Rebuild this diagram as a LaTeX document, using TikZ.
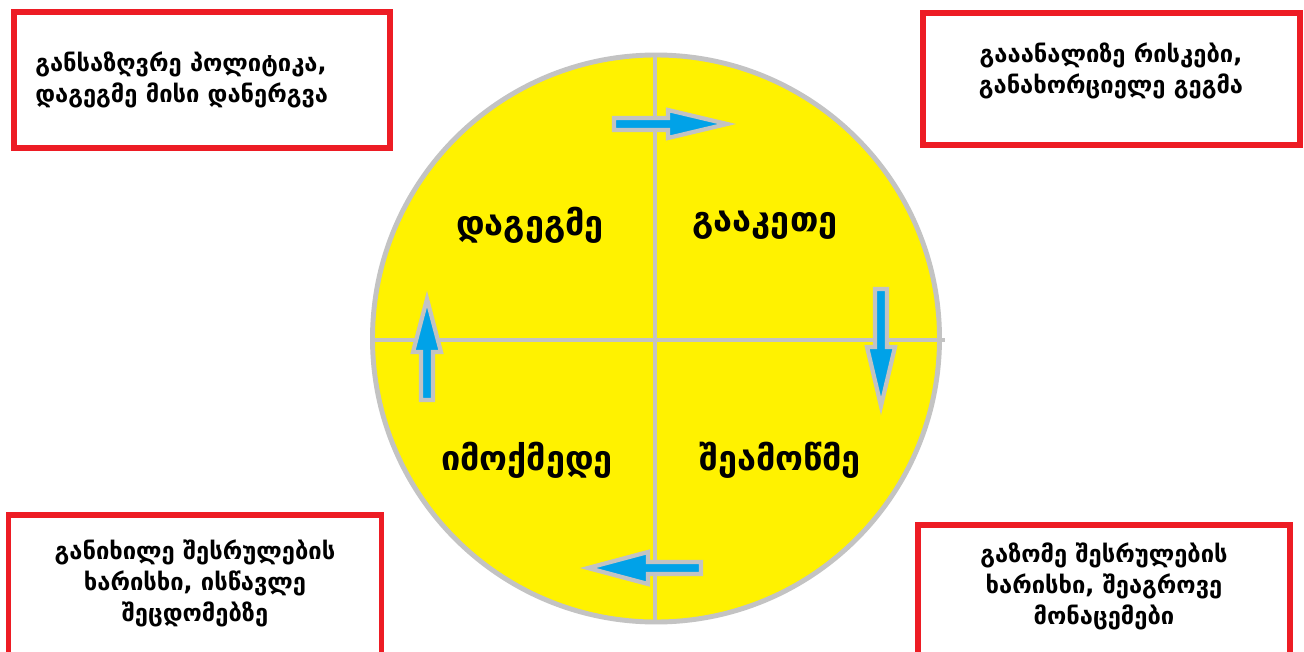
\documentclass[tikz,border=0pt]{standalone}
\usepackage{fontspec}
\newfontfamily\geofont{DejaVu Sans}
\usepackage{xcolor}
\definecolor{cycleyellow}{HTML}{FFF200}
\definecolor{boxred}{HTML}{ED1C24}
\definecolor{flowblue}{HTML}{00A2E8}
\definecolor{linegray}{HTML}{C3C3C3}
\tikzset{
  redbox/.style={draw=boxred,line width=3.2pt,rectangle,inner sep=0pt},
  boxtext/.style={font=\geofont\bfseries\fontsize{13.5}{17.6}\selectfont,align=center,inner sep=0pt},
  phase/.style={font=\geofont\bfseries\fontsize{19.5}{24}\selectfont,inner sep=0pt},
  flow/.style={fill=flowblue,draw=linegray,line width=2.4pt,line join=miter}
}

\begin{document}
\begin{tikzpicture}[x=0.02cm,y=-0.02cm]
\clip(0,0) rectangle (1304,652);
\fill[white](0,0) rectangle (1304,652);
% the wheel
\draw[linegray,fill=cycleyellow,line width=2.8pt](656,338.5) circle[radius=283.5];
\draw[linegray,line width=2.4pt](373,340)--(945,340)
(655,55)--(655,622);
% phases
\node[phase](plan) at (530,225){დაგეგმე};
\node[phase](do) at (765,225){გააკეთე};
\node[phase](act) at (527,460){იმოქმედე};
\node[phase](check) at (780,460){შეამოწმე};
% arrows round the wheel
\draw[flow](614,118)--(668,118)--(668,110)--(727,124)--(668,138)--(668,130)--(614,130)--cycle;
\draw[flow](875,289)--(875,347)--(867,347)--(881,406)--(895,347)--(887,347)--(887,289)--cycle;
\draw[flow](701,562)--(648,562)--(648,552)--(588,568)--(648,584)--(648,574)--(701,574)--cycle;
\draw[flow](421,400)--(421,352)--(413,352)--(427,299)--(441,352)--(433,352)--(433,400)--cycle;
% boxes
\node[redbox,minimum width=376.5*0.02cm,minimum height=135.5*0.02cm](planbox) at (202,80){};
\node[redbox,minimum width=377*0.02cm,minimum height=132*0.02cm](dobox) at (1111.5,79){};
\node[redbox,minimum width=373*0.02cm,minimum height=200*0.02cm](actbox) at (195,615){};
\node[redbox,minimum width=371.5*0.02cm,minimum height=200*0.02cm](checkbox) at (1104,625){};
\node[boxtext,align=left,anchor=west](plantext) at (35,80){განსაზღვრე პოლიტიკა,\\დაგეგმე მისი დანერგვა};
\node[boxtext](dotext) at (1111,71){გააანალიზე რისკები,\\განახორციელე გეგმა};
\node[boxtext](acttext) at (195,583){განიხილე შესრულების\\ხარისხი, ისწავლე\\შეცდომებზე};
\node[boxtext](checktext) at (1104,586){გაზომე შესრულების\\ხარისხი, შეაგროვე\\მონაცემები};
\end{tikzpicture}
\end{document}
